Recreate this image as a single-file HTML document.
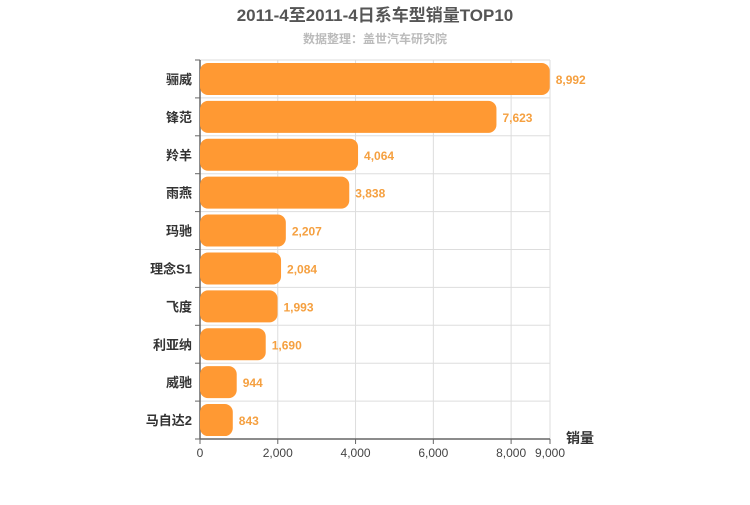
<!DOCTYPE html>
<html><head><meta charset="utf-8"><style>
body{margin:0;background:#fff;font-family:"Liberation Sans","Noto Sans CJK SC",sans-serif}
</style></head><body>
<svg id="c" width="750" height="500" style="font-family:'Liberation Sans','Noto Sans CJK SC',sans-serif">
<text x="375" y="21" text-anchor="middle" font-size="17" font-weight="bold" fill="#555">2011-4至2011-4日系车型销量TOP10</text>
<text x="375" y="43" text-anchor="middle" font-size="12" font-weight="bold" fill="#bbb">数据整理：盖世汽车研究院</text>
<text x="580" y="443" text-anchor="middle" font-size="14" font-weight="bold" fill="#333">销量</text>
<g id="g"></g>
</svg>
<script>
const categories=["骊威","锋范","羚羊","雨燕","玛驰","理念S1","飞度","利亚纳","威驰","马自达2"];
const values=[8992,7623,4064,3838,2207,2084,1993,1690,944,843];
const ticks=[0,2000,4000,6000,8000,9000];
const tickLabels=["0","2,000","4,000","6,000","8,000","9,000"];
const X0=200,X1=550,Y0=60,Y1=439,MAX=9000;
const xs=v=>X0+(X1-X0)*v/MAX;
const bandH=(Y1-Y0)/categories.length;
const ys=i=>Y0+i*bandH;
const g=document.getElementById('g');const NS='http://www.w3.org/2000/svg';
function mk(t,a){const e=document.createElementNS(NS,t);for(const k in a)e.setAttribute(k,a[k]);g.appendChild(e);return e;}
ticks.forEach((t,i)=>{
 const l=mk('line',{x1:xs(t),x2:xs(t),y1:Y0,y2:Y1,stroke:'#ddd'});
 
 
 const tk=mk('line',{x1:xs(t),x2:xs(t),y1:Y1,y2:Y1+5,stroke:'#666'});
 
 
 const tx=mk('text',{x:xs(t),y:Y1+18,'text-anchor':'middle','font-size':12,fill:'#444'});
 tx.textContent=tickLabels[i];
 
 
});
for(let i=0;i<=categories.length;i++){
 const l=mk('line',{x1:X0,x2:X1,y1:ys(i),y2:ys(i),stroke:'#ddd'});
 
 
 const tk=mk('line',{x1:X0-5,x2:X0,y1:ys(i),y2:ys(i),stroke:'#666'});
 
 
}
const ax=mk('line',{x1:X0,x2:X0,y1:Y0,y2:Y1,stroke:'#666','stroke-width':1.5});


const bx=mk('line',{x1:X0,x2:X1,y1:Y1,y2:Y1,stroke:'#666','stroke-width':1.5});


categories.forEach((c,i)=>{
 const cy=ys(i)+bandH/2;
 const r=mk('rect',{x:X0,y:cy-16,width:xs(values[i])-X0,height:32,rx:8,ry:8,fill:'#ff9933'});
 
 
 const lb=mk('text',{x:X0-8,y:cy+5,'text-anchor':'end','font-size':13,'font-weight':'bold',fill:'#333'});
 lb.textContent=c;
 
 
 const v=mk('text',{x:xs(values[i])+6,y:cy+5,'font-size':12,'font-weight':'bold',fill:'#f5a040'});
 v.textContent=values[i].toLocaleString('en-US');
 
 
});
</script>
</body></html>
